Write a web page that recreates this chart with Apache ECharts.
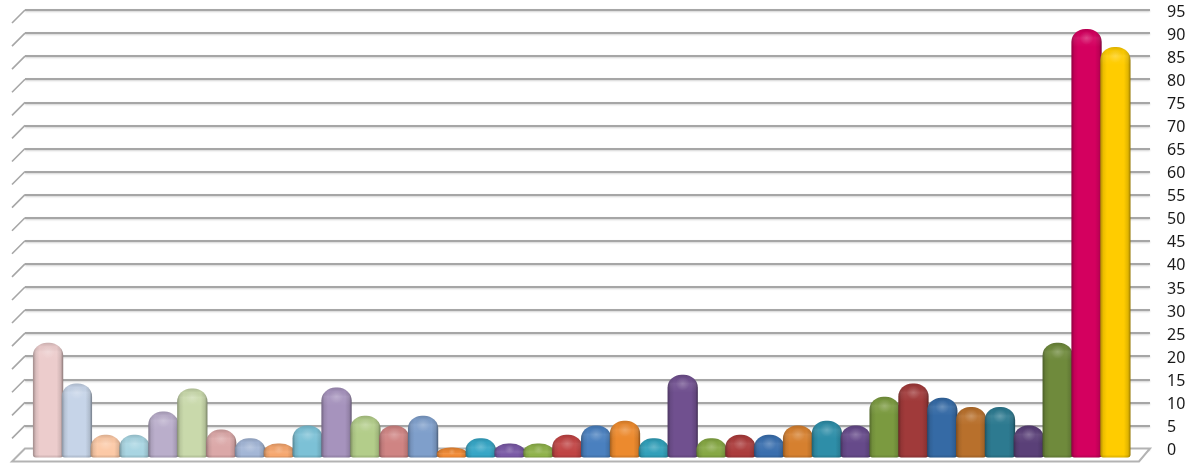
<!DOCTYPE html>
<html><head><meta charset="utf-8">
<style>html,body{margin:0;padding:0;background:#fff}#c{width:1190px;height:463px}</style>
<script src="https://cdn.jsdelivr.net/npm/echarts@6/dist/echarts.min.js"></script>
</head><body><div id="c"></div>
<script>
const barValues = [22.9,14.1,3,3,8,13,4.1,2.2,1.1,5,13.2,7.1,5,7.1,0.2,2.2,1.1,1.1,3,5,6,2.2,16,2.2,3,3,5,6,5,11.2,14.1,11,9,9,5,22.9,90.9,87];
const barColors = ['#ecccCC','#c6d4e8','#fcc9a6','#a8d5e2','#baaecb','#c9d9ab','#dba8a8','#a3b6d6','#f6a76f','#7cc1d6','#a693bd','#b3cd8a','#cf8483','#7f9fcb','#f08a35','#36a6c6','#7a5aa6','#8fb24b','#c04444','#4a80bf','#ec8a2e','#31a0ba','#70508f','#86a844','#ab3c3c','#3a6fae','#d6802f','#2e8ea8','#664a8a','#7b9a40','#a03a3a','#356aa5','#b8702c','#2d7a90','#5a4078','#6f8a3c','#d4005f','#ffcc00'];
const tickValues = [0,5,10,15,20,25,30,35,40,45,50,55,60,65,70,75,80,85,90,95];

const FLOOR_DROP = 9, DIAG = 13;
function shade(hex, f){
  const n = parseInt(hex.slice(1),16), c=[n>>16,(n>>8)&255,n&255];
  return 'rgb('+c.map(v=>Math.round(f<1? v*f : v+(255-v)*(f-1))).join(',')+')';
}
function barPath(w,h,rx,ry){
  const b=Math.min(3,h/4);
  return `M0 ${ry}A${rx} ${ry} 0 0 1 ${rx} 0L${w-rx} 0A${rx} ${ry} 0 0 1 ${w} ${ry}L${w} ${h-b}Q${w} ${h} ${w-b} ${h}L${b} ${h}Q0 ${h} 0 ${h-b}Z`;
}
function renderBar(params, api){
  const i=api.value(0), v=api.value(1);
  const top=api.coord([i,v]), base=api.coord([i,0]);
  const w=api.size([1,0])[0]*1.05, x=top[0]-w/2, y=top[1], h=base[1]+FLOOR_DROP-y;
  const rx=Math.min(14,w/2), ry=Math.min(13,h*0.6);
  const col=barColors[params.dataIndex];
  const pd=barPath(w,h,rx,ry);
  const sh={pathData:pd,x:x,y:y,width:w,height:h,layout:'cover'};
  return {type:'group',children:[
    {type:'path',shape:sh,style:{fill:{type:'linear',x:0,y:0,x2:1,y2:0,colorStops:[
      {offset:0,color:shade(col,0.68)},{offset:0.1,color:shade(col,0.92)},{offset:0.22,color:col},
      {offset:0.78,color:col},{offset:0.92,color:shade(col,0.88)},{offset:1,color:shade(col,0.58)}]}}},
    {type:'path',shape:sh,style:{fill:{type:'linear',x:0,y:0,x2:0,y2:1,colorStops:[
      {offset:0,color:'rgba(0,0,0,0.14)'},{offset:Math.min(0.5,4/h),color:'rgba(0,0,0,0.03)'},{offset:Math.min(0.6,9/h),color:'rgba(255,255,255,0.08)'},
      {offset:Math.min(0.8,18/h),color:'rgba(255,255,255,0)'},{offset:Math.max(0.85,1-3/h),color:'rgba(0,0,0,0)'},{offset:1,color:'rgba(0,0,0,0.14)'}]}}},
    {type:'circle',shape:{cx:top[0],cy:y+Math.min(9,h*0.42),r:Math.min(7,h*0.35)},style:{fill:{type:'radial',x:0.5,y:0.5,r:0.5,colorStops:[
      {offset:0,color:'rgba(255,255,255,0.2)'},{offset:1,color:'rgba(255,255,255,0)'}]}}}
  ]};
}
function renderDiag(params, api){
  const p=api.coord([-0.8,api.value(0)]);
  return {type:'line',shape:{x1:p[0],y1:p[1],x2:p[0]-DIAG,y2:p[1]+DIAG},style:{stroke:'#a6a6a6',lineWidth:1.6}};
}
function renderFloor(params, api){
  const l=api.coord([-0.8,0]), r=api.coord([38.2,0]);
  return {type:'polygon',shape:{points:[[l[0],l[1]],[l[0]-DIAG,l[1]+DIAG],[r[0]-11,r[1]+DIAG],[r[0],r[1]]]},
    style:{fill:'#fff',stroke:'#b3b3b3',lineWidth:2}};
}
const chart=echarts.init(document.getElementById('c'),null,{renderer:'canvas'});
chart.setOption({
  animation:false,backgroundColor:'#fff',
  grid:[
    {left:25,right:40,top:10,bottom:14.5},
    {left:25,right:40,top:12,bottom:12.5}
  ],
  xAxis:[
    {type:'value',gridIndex:0,min:-0.8,max:38.2,show:false,splitLine:{show:false}},
    {type:'value',gridIndex:1,min:0,max:1,show:false,splitLine:{show:false}}
  ],
  yAxis:[
    {type:'value',gridIndex:0,min:0,max:95,interval:5,axisLine:{show:false},axisTick:{show:false},axisLabel:{show:false},
     splitLine:{show:true,lineStyle:{color:'#a6a6a6',width:2,shadowColor:'rgba(0,0,0,0.18)',shadowBlur:2,shadowOffsetY:1}}},
    {type:'value',gridIndex:1,position:'right',min:0,max:95,interval:5,axisLine:{show:false},axisTick:{show:false},splitLine:{show:false},
     axisLabel:{margin:17,color:'#1a1a1a',fontFamily:'"Noto Sans"',fontSize:16}}
  ],
  series:[
    {type:'custom',z:2,silent:true,renderItem:renderFloor,data:[[0]],encode:{x:0},clip:false},
    {type:'custom',z:2,silent:true,renderItem:renderDiag,data:tickValues.filter(v=>v>0).map(v=>[v]),encode:{y:0},clip:false},
    {type:'custom',z:3,silent:true,renderItem:renderBar,data:barValues.map((v,i)=>[i,v]),encode:{x:0,y:1},clip:false}
  ]
});
</script></body></html>
